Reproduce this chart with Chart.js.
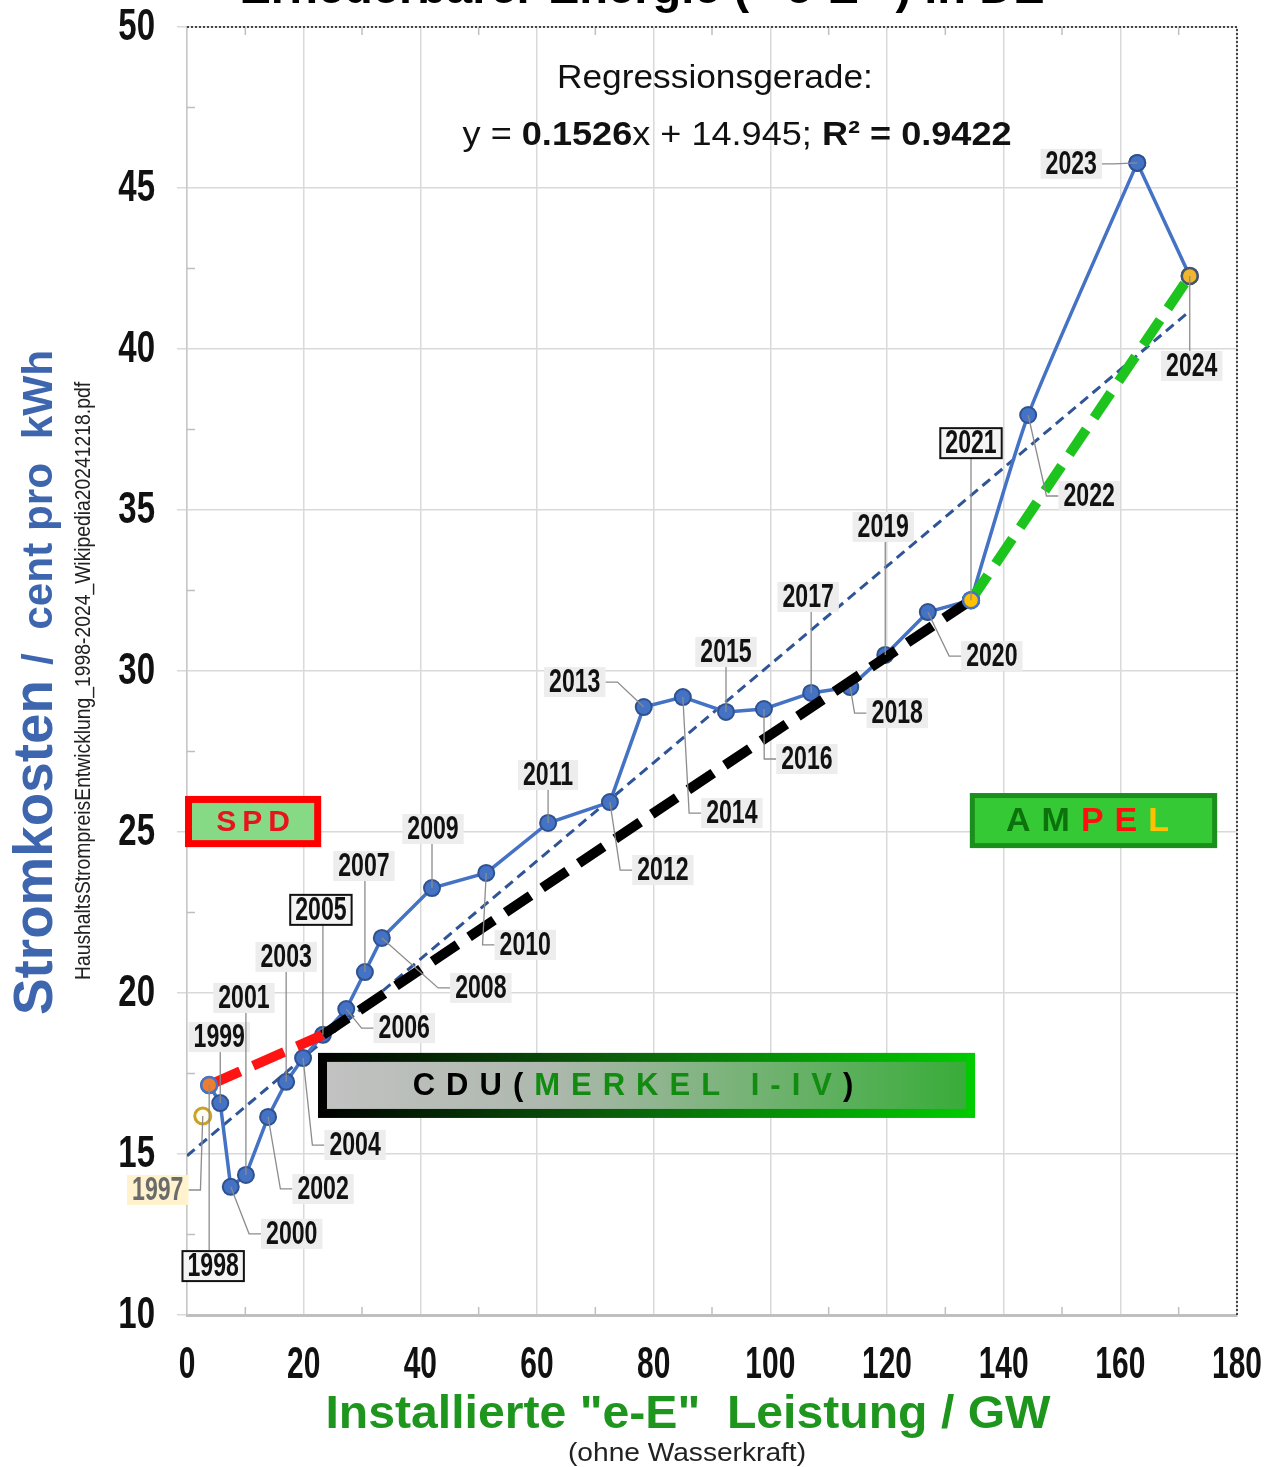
<!DOCTYPE html>
<html>
<head>
<meta charset="utf-8">
<script src="https://cdn.jsdelivr.net/npm/chart.js@4.4.1/dist/chart.umd.min.js"></script>
<style>
  html, body { margin: 0; padding: 0; background: #fff; }
  canvas { display: block; }
</style>
</head>
<body>
<canvas id="myChart" width="1277" height="1467"></canvas>
<script>
// Daten: installierte e-E Leistung (GW) und Stromkosten (ct/kWh) je Jahr
var years = [1997, 1998, 1999, 2000, 2001, 2002, 2003, 2004, 2005, 2006, 2007, 2008, 2009, 2010,
             2011, 2012, 2013, 2014, 2015, 2016, 2017, 2018, 2019, 2020, 2021, 2022, 2023, 2024];
var leistung = [2.7, 3.8, 5.7, 7.5, 10.1, 13.9, 17.0, 19.9, 23.3, 27.3, 30.5, 33.4, 42.0, 51.3,
                61.9, 72.5, 78.3, 85.0, 92.4, 98.9, 107.0, 113.7, 119.7, 127.0, 134.4, 144.2, 162.9, 171.9];
var preis = [16.18, 17.14, 16.58, 13.98, 14.35, 16.15, 17.24, 17.98, 18.70, 19.50, 20.65, 21.71, 23.26, 23.73,
             25.28, 25.93, 28.88, 29.19, 28.73, 28.82, 29.32, 29.50, 30.50, 31.83, 32.20, 37.95, 45.78, 42.27];

// Regressionsgerade (aus der Grafik)
var regSlope = 0.1526;
var regIntercept = 14.945;
var regRange = [0, 172];

// Regierungsphasen (Start-/Endjahr)
var spdYears = [1998, 2005];
var cduYears = [2005, 2021];
var ampelYears = [2021, 2024];

// Achsen
var xTicks = [0, 20, 40, 60, 80, 100, 120, 140, 160, 180];
var yTicks = [10, 15, 20, 25, 30, 35, 40, 45, 50];

var boxedYears = [1998, 2005, 2021];
var markedYears = [1998, 2021, 2024];

function pt(year) {
    var i = years.indexOf(year);
    return { x: leistung[i], y: preis[i] };
}
function span(from, to) {
    return years.filter(function (y) { return y >= from && y <= to; }).map(pt);
}

// 1998-2021 gerade, 2021-2023 leicht geglättet, 2023-2024 gerade
var blueEarly = span(1998, 2021);
var blueMid = span(2021, 2023);
var blueEnd = span(2023, 2024);

// label placement relative to point (px) + leader type
var labelOffsets = {
    1997: [-45, 74, 'el'], 1998: [4, 181, 'v'], 1999: [-1, -66, 'v'], 2000: [61, 47, 'er'],
    2001: [-2, -177, 'v'], 2002: [55, 72, 'er'], 2003: [0, -125, 'v'], 2004: [52, 87, 'er'],
    2005: [-2, -125, 'v'], 2006: [58, 19, 'er'], 2007: [-1, -106, 'v'], 2008: [99, 50, 'er'],
    2009: [1, -59, 'v'], 2010: [39, 72, 'er'], 2011: [0, -48, 'v'], 2012: [53, 68, 'er'],
    2013: [-69, -25, 'el'], 2014: [49, 116, 'er'], 2015: [0, -60, 'v'], 2016: [43, 50, 'er'],
    2017: [-3, -96, 'v'], 2018: [47, 26, 'er'], 2019: [-2, -128, 'v'], 2020: [64, 44, 'er'],
    2021: [0, -157, 'v'], 2022: [61, 81, 'er'], 2023: [-66, 1, 'el'], 2024: [2, 90, 'v']
};

var NARROW = 0.7; // horizontal squeeze for the condensed look

function drawRuns(ctx, runs, cx, y, w, align) {
    var total = 0;
    runs.forEach(function (r) { ctx.font = r.font; r.w = ctx.measureText(r.t).width; total += r.w; });
    var s = w ? w / total : 1;
    ctx.save();
    ctx.translate(cx, y);
    ctx.scale(s, 1);
    var x = align === 'left' ? 0 : -total / 2;
    ctx.textAlign = 'left';
    runs.forEach(function (r) {
        ctx.font = r.font;
        ctx.fillStyle = r.color;
        ctx.fillText(r.t, x, 0);
        x += r.w;
    });
    ctx.restore();
}

function squeezed(ctx, text, x, y, sx, align) {
    ctx.save();
    ctx.translate(x, y);
    ctx.scale(sx, 1);
    ctx.textAlign = align;
    ctx.fillText(text, 0, 0);
    ctx.restore();
}

function spaced(ctx, chars, cx, cy, gap) {
    var total = 0;
    chars.forEach(function (c) { ctx.font = c.font; c.w = ctx.measureText(c.t).width; total += c.w; });
    total += gap * (chars.length - 1);
    var x = cx - total / 2;
    ctx.textAlign = 'left';
    ctx.textBaseline = 'middle';
    chars.forEach(function (c) {
        ctx.font = c.font;
        ctx.fillStyle = c.color;
        ctx.fillText(c.t, x, cy);
        x += c.w + gap;
    });
}

var overlay = {
    id: 'overlay',
    beforeDraw: function (chart) {
        var ctx = chart.ctx;
        ctx.save();
        ctx.fillStyle = '#fff';
        ctx.fillRect(0, 0, chart.width, chart.height);
        ctx.restore();
    },
    beforeDatasetsDraw: function (chart) {
        var ctx = chart.ctx, a = chart.chartArea;
        var xs = chart.scales.x, ys = chart.scales.y;
        ctx.save();
        ctx.strokeStyle = '#BFBFBF';
        ctx.lineWidth = 1.5;
        // minor ticks
        for (var v = 10; v < 180; v += 20) {
            var px = xs.getPixelForValue(v);
            ctx.beginPath(); ctx.moveTo(px, a.bottom); ctx.lineTo(px, a.bottom - 8); ctx.stroke();
            ctx.beginPath(); ctx.moveTo(px, a.top); ctx.lineTo(px, a.top + 8); ctx.stroke();
        }
        for (var w = 12.5; w < 50; w += 5) {
            var py = ys.getPixelForValue(w);
            ctx.beginPath(); ctx.moveTo(a.left, py); ctx.lineTo(a.left + 8, py); ctx.stroke();
        }
        // dotted top / right border
        ctx.strokeStyle = '#444';
        ctx.lineWidth = 2;
        ctx.setLineDash([2, 2]);
        ctx.beginPath();
        ctx.moveTo(a.left, a.top); ctx.lineTo(a.right, a.top); ctx.lineTo(a.right, a.bottom);
        ctx.stroke();
        ctx.restore();
    },
    afterDatasetsDraw: function (chart) {
        var ctx = chart.ctx;
        var xs = chart.scales.x, ys = chart.scales.y;
        function X(v) { return xs.getPixelForValue(v); }
        function Y(v) { return ys.getPixelForValue(v); }
        ctx.save();

        // SPD box
        var l = X(-0.34), r = X(23.0), t = Y(26.12), b = Y(24.53);
        ctx.fillStyle = '#FF0000';
        ctx.fillRect(l, t, r - l, b - t);
        ctx.fillStyle = '#86DA86';
        ctx.fillRect(l + 7, t + 7, r - l - 14, b - t - 14);
        spaced(ctx, [{ t: 'S' }, { t: 'P' }, { t: 'D' }].map(function (c) {
            c.font = 'bold 30px "Liberation Sans"'; c.color = '#E8141C'; return c;
        }), (l + r) / 2, (t + b) / 2 + 1, 6);

        // AMPEL box
        l = X(134.2); r = X(176.6); t = Y(26.21); b = Y(24.50);
        ctx.fillStyle = '#1B8F1B';
        ctx.fillRect(l, t, r - l, b - t);
        ctx.fillStyle = '#36C936';
        ctx.fillRect(l + 5, t + 5, r - l - 10, b - t - 10);
        var ampCols = ['#0C730C', '#0C730C', '#FF1010', '#FF1010', '#FFC000'];
        spaced(ctx, 'AMPEL'.split('').map(function (c, i) {
            return { t: c, font: 'bold 34px "Liberation Sans"', color: ampCols[i] };
        }), (l + r) / 2 - 6, (t + b) / 2 + 1, 11);

        // CDU box
        l = X(22.46); r = X(135.1); t = Y(18.14); b = Y(16.12);
        var g1 = ctx.createLinearGradient(l, 0, r, 0);
        g1.addColorStop(0, '#000000');
        g1.addColorStop(0.45, '#0B5E0B');
        g1.addColorStop(1, '#00CC00');
        ctx.fillStyle = g1;
        ctx.fillRect(l, t, r - l, b - t);
        var g2 = ctx.createLinearGradient(l, 0, r, 0);
        g2.addColorStop(0, '#C2C2C2');
        g2.addColorStop(0.35, '#AEB8AE');
        g2.addColorStop(1, '#36AC36');
        ctx.fillStyle = g2;
        ctx.fillRect(l + 9, t + 9, r - l - 18, b - t - 18);
        var cduChars = [];
        'CDU('.split('').forEach(function (c) { cduChars.push({ t: c, font: 'bold 31px "Liberation Sans"', color: '#000' }); });
        'MERKEL I-IV'.split('').forEach(function (c) { cduChars.push({ t: c, font: 'bold 31px "Liberation Sans"', color: '#118C11' }); });
        cduChars.push({ t: ')', font: 'bold 31px "Liberation Sans"', color: '#000' });
        spaced(ctx, cduChars, 633, (t + b) / 2 + 1, 11);

        // year labels with leader lines
        ctx.font = 'bold 33px "Liberation Sans"';
        years.forEach(function (yr, i) {
            var o = labelOffsets[yr];
            if (!o) return;
            var px = X(leistung[i]), py = Y(preis[i]);
            var lx = px + o[0], ly = py + o[1];
            var tw = ctx.measureText(String(yr)).width * NARROW;
            var hw = tw / 2 + 5, hh = 15;
            ctx.strokeStyle = '#8C8C8C';
            ctx.lineWidth = 1.3;
            ctx.setLineDash([]);
            ctx.beginPath();
            ctx.moveTo(px, py);
            if (o[2] === 'v') {
                ctx.lineTo(px, ly + (o[1] > 0 ? -hh : hh));
            } else if (o[2] === 'er') {
                ctx.lineTo(lx - hw - 12, ly);
                ctx.lineTo(lx - hw, ly);
            } else {
                ctx.lineTo(lx + hw + 12, ly);
                ctx.lineTo(lx + hw, ly);
            }
            ctx.stroke();

            var boxed = boxedYears.indexOf(yr) >= 0;
            ctx.fillStyle = yr === 1997 ? '#FFF2CC' : (boxed ? '#F4F4F4' : '#EDEDED');
            ctx.fillRect(lx - hw, ly - hh, hw * 2, hh * 2);
            if (boxed) {
                ctx.strokeStyle = '#111';
                ctx.lineWidth = 2;
                ctx.strokeRect(lx - hw, ly - hh, hw * 2, hh * 2);
            }
            ctx.fillStyle = yr === 1997 ? '#6B6B6B' : '#111';
            ctx.textBaseline = 'middle';
            squeezed(ctx, String(yr), lx, ly + 1, NARROW, 'center');
        });
        ctx.restore();
    },
    afterDraw: function (chart) {
        var ctx = chart.ctx, a = chart.chartArea;
        var xs = chart.scales.x, ys = chart.scales.y;
        ctx.save();

        // tick labels from the chart scales
        ctx.font = 'bold 44px "Liberation Sans"';
        ctx.fillStyle = '#111';
        ctx.textBaseline = 'middle';
        xs.ticks.forEach(function (t) {
            squeezed(ctx, String(t.value), xs.getPixelForValue(t.value), a.bottom + 51, 0.68, 'center');
        });
        ys.ticks.forEach(function (t) {
            squeezed(ctx, String(t.value), a.left - 32, ys.getPixelForValue(t.value) + 1, 0.75, 'right');
        });

        ctx.textBaseline = 'alphabetic';
        // title (cut off at the top)
        drawRuns(ctx, [{ t: 'Erneuerbarer Energie ( \u201ce-E\u201d ) in DE', font: 'bold 46px "Liberation Sans"', color: '#000' }],
            642, 3, 805);

        // regression text
        drawRuns(ctx, [{ t: 'Regressionsgerade:', font: '34px "Liberation Sans"', color: '#111' }],
            xs.getPixelForValue(90.5), ys.getPixelForValue(48.1), 316);
        drawRuns(ctx, [
            { t: 'y = ', font: '34px "Liberation Sans"', color: '#111' },
            { t: '0.1526', font: 'bold 34px "Liberation Sans"', color: '#111' },
            { t: 'x + 14.945; ', font: '34px "Liberation Sans"', color: '#111' },
            { t: 'R\u00b2 = 0.9422', font: 'bold 34px "Liberation Sans"', color: '#111' }
        ], xs.getPixelForValue(94.3), ys.getPixelForValue(46.35), 549);

        // x axis title
        drawRuns(ctx, [{ t: 'Installierte "e-E"  Leistung / GW', font: 'bold 46px "Liberation Sans"', color: '#1E961E' }],
            688, 1428, 725);
        drawRuns(ctx, [{ t: '(ohne Wasserkraft)', font: '25px "Liberation Sans"', color: '#222' }],
            687, 1461, 238);

        // y axis titles (rotated)
        ctx.save();
        ctx.translate(52, 1015);
        ctx.rotate(-Math.PI / 2);
        drawRuns(ctx, [{ t: 'Stromkosten', font: 'bold 56px "Liberation Sans"', color: '#3D66AE' }], 0, 0, 335, 'left');
        drawRuns(ctx, [{ t: '/  cent pro  kWh', font: 'bold 42px "Liberation Sans"', color: '#3D66AE' }], 350, 0, 315, 'left');
        ctx.restore();

        ctx.save();
        ctx.translate(90, 980);
        ctx.rotate(-Math.PI / 2);
        drawRuns(ctx, [{ t: 'HaushaltsStrompreisEntwicklung_1998-2024_Wikipedia20241218.pdf', font: '22px "Liberation Sans"', color: '#222' }],
            0, 0, 598, 'left');
        ctx.restore();

        ctx.restore();
    }
};

function noPad(scale) {
    scale.paddingLeft = 0;
    scale.paddingRight = 0;
    scale.paddingTop = 0;
    scale.paddingBottom = 0;
}

function blueSeries(label, data, tension) {
    return {
        label: label,
        data: data,
        showLine: true,
        tension: tension,
        borderColor: '#4472C4',
        borderWidth: 3.5,
        pointRadius: 8,
        pointBackgroundColor: '#4472C4',
        pointBorderColor: '#2F528F',
        pointBorderWidth: 2,
        order: 5
    };
}

var chart = new Chart(document.getElementById('myChart'), {
    type: 'scatter',
    data: {
        datasets: [
            {
                label: 'markiert',
                data: markedYears.map(pt),
                showLine: false,
                pointRadius: 8,
                pointBackgroundColor: ['#ED7D31', '#FFC000', '#F2B52E'],
                pointBorderColor: ['#4472C4', '#4472C4', '#44546A'],
                pointBorderWidth: 2.5,
                order: 1
            },
            {
                label: '1997',
                data: [pt(1997)],
                showLine: false,
                pointRadius: 8,
                pointBackgroundColor: '#FFFDF2',
                pointBorderColor: '#C9A227',
                pointBorderWidth: 3,
                order: 1
            },
            {
                label: 'AMPEL',
                data: ampelYears.map(pt),
                showLine: true,
                borderColor: '#1DC41D',
                borderWidth: 10,
                borderDash: [30, 14],
                pointRadius: 0,
                order: 2
            },
            {
                label: 'CDU',
                data: cduYears.map(pt),
                showLine: true,
                borderColor: '#000',
                borderWidth: 10,
                borderDash: [30, 14],
                pointRadius: 0,
                order: 3
            },
            {
                label: 'SPD',
                data: spdYears.map(pt),
                showLine: true,
                borderColor: '#FF1414',
                borderWidth: 10,
                borderDash: [34, 14],
                pointRadius: 0,
                order: 3
            },
            blueSeries('Stromkosten', blueEarly, 0),
            blueSeries('Stromkosten 2021-2023', blueMid, 0.2),
            blueSeries('Stromkosten 2023-2024', blueEnd, 0),
            {
                label: 'Regression',
                data: regRange.map(function (x) { return { x: x, y: regSlope * x + regIntercept }; }),
                showLine: true,
                borderColor: '#2F5597',
                borderWidth: 3,
                borderDash: [10, 6],
                pointRadius: 0,
                order: 6
            }
        ]
    },
    options: {
        responsive: false,
        animation: false,
        layout: { padding: { left: 117, top: 27, right: 40, bottom: 0 } },
        plugins: {
            legend: { display: false },
            tooltip: { enabled: false }
        },
        scales: {
            x: {
                type: 'linear',
                min: 0,
                max: 180,
                afterBuildTicks: function (scale) { scale.ticks = xTicks.map(function (v) { return { value: v }; }); },
                afterFit: function (scale) { scale.height = 152; noPad(scale); },
                grid: { color: '#D9D9D9', lineWidth: 1.5, drawTicks: false },
                border: { color: '#BFBFBF', width: 3 },
                ticks: { display: false }
            },
            y: {
                type: 'linear',
                min: 10,
                max: 50,
                afterBuildTicks: function (scale) { scale.ticks = yTicks.map(function (v) { return { value: v }; }); },
                afterFit: function (scale) { scale.width = 70; noPad(scale); },
                grid: { color: '#D9D9D9', lineWidth: 1.5, tickLength: 10 },
                border: { color: '#C8C8C8', width: 1.5 },
                ticks: { display: false }
            }
        }
    },
    plugins: [overlay]
});
</script>
</body>
</html>
